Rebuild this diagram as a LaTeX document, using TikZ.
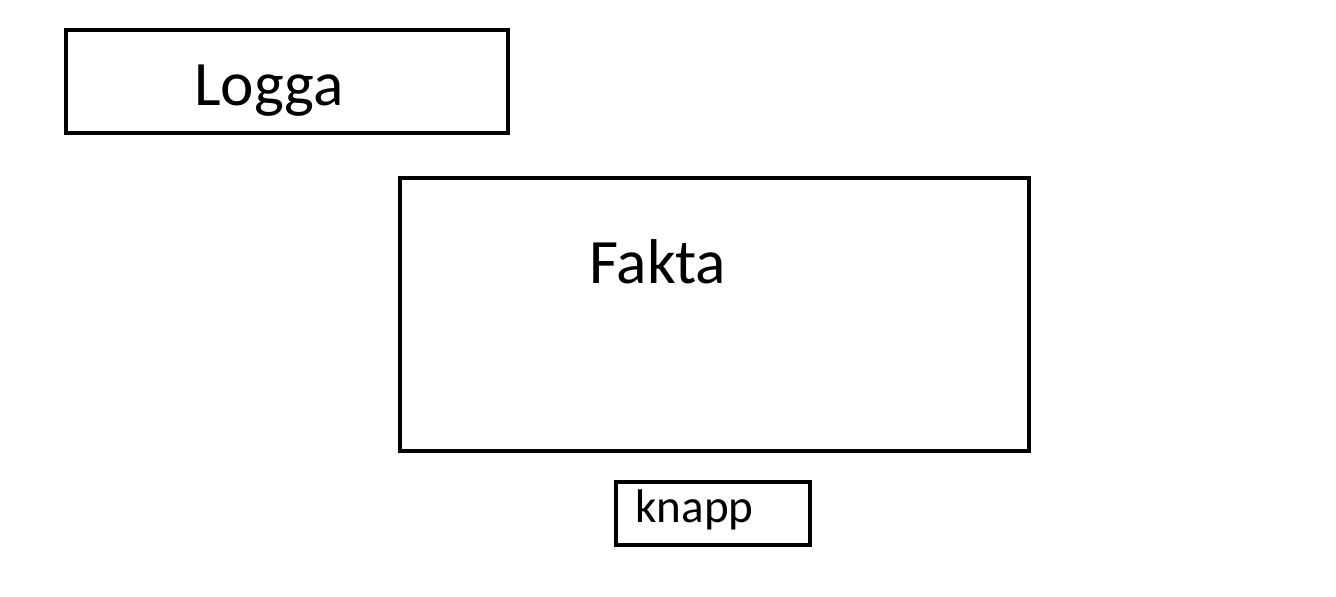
\documentclass[tikz,border=0pt]{standalone}
\usepackage{fontspec}
\setmainfont{Carlito}
\usepackage{tikz}
\usetikzlibrary{positioning}
\tikzstyle{frame} = [rectangle, draw=black, line width=2.6pt, inner sep=0pt]
\tikzstyle{bigtext} = [inner sep=0pt, anchor=base west, font=\fontsize{36}{42}\selectfont]
\tikzstyle{smalltext} = [inner sep=0pt, anchor=base west, font=\fontsize{26.8}{32}\selectfont]

\begin{document}
\begin{tikzpicture}[x=0.02cm, y=-0.02cm]
    \useasboundingbox (0,0) rectangle (1336,596);
    \node (logobox) [frame, minimum width=8.84cm, minimum height=2.06cm] at (287,81.5) {};
    \node (factbox) [frame, minimum width=12.58cm, minimum height=5.46cm] at (714.5,314.5) {};
    \node (btnbox) [frame, minimum width=3.88cm, minimum height=1.26cm] at (713,513.5) {};

    \node (logo) [bigtext] at (194,105) {Logga};
    \node (fact) [bigtext] at (589,283) {Fakta};
    \node (btn) [smalltext] at (635,522) {knapp};
\end{tikzpicture}
\end{document}
